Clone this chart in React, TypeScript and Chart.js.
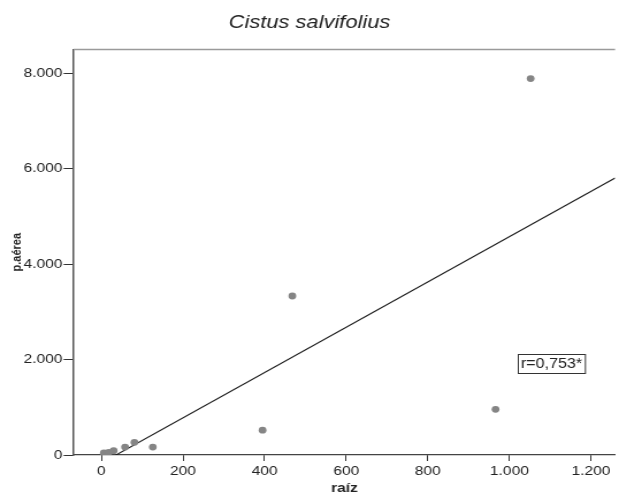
import React, { useEffect, useRef } from "react";
import { Chart, registerables } from "chart.js";

Chart.register(...registerables);

// ---- data ----
const raiz = [6, 18, 30, 58, 81, 126, 395, 468, 966, 1052];
const pAerea = [42, 56, 90, 167, 265, 167, 521, 3333, 958, 7890];

const xTickValues = [0, 200, 400, 600, 800, 1000, 1200];
const xTickLabels = ["0", "200", "400", "600", "800", "1.000", "1.200"];
const yTickValues = [0, 2000, 4000, 6000, 8000];
const yTickLabels = ["0", "2.000", "4.000", "6.000", "8.000"];

const xRange = [-68, 1259];
const yRange = [0, 8500];

const titleText = "Cistus salvifolius";
const xTitle = "raíz";
const yTitle = "p.aérea";
const rLabel = "r=0,753*";
const rLabelPos = { x: 1021, y: 2120 };

// least squares fit line
function fit(xs: number[], ys: number[]) {
  const n = xs.length;
  const mx = xs.reduce((a, b) => a + b, 0) / n;
  const my = ys.reduce((a, b) => a + b, 0) / n;
  let sxy = 0;
  let sxx = 0;
  for (let i = 0; i < n; i++) {
    sxy += (xs[i] - mx) * (ys[i] - my);
    sxx += (xs[i] - mx) * (xs[i] - mx);
  }
  const b = sxy / sxx;
  return { a: my - b * mx, b };
}

const FONT = "'Liberation Sans', Arial, sans-serif";
const STRETCH = 1.15;
const W = 619;
const H = 496;

export default function App() {
  const ref = useRef<HTMLCanvasElement | null>(null);

  useEffect(() => {
    if (!ref.current) return;
    const { a, b } = fit(raiz, pAerea);
    const points = raiz.map((x, i) => ({ x, y: pAerea[i] }));
    const lineData = [
      { x: xRange[0], y: a + b * xRange[0] },
      { x: xRange[1], y: a + b * xRange[1] },
    ];

    const framePlugin = {
      id: "frame",
      afterDraw(chart: any) {
        const { ctx, chartArea, scales } = chart;
        ctx.save();
        ctx.strokeStyle = "#9a9a9a";
        ctx.lineWidth = 1.5;
        ctx.beginPath();
        ctx.moveTo(chartArea.left, chartArea.top);
        ctx.lineTo(chartArea.right, chartArea.top);
        ctx.stroke();

        // r label box
        const px = scales.x.getPixelForValue(rLabelPos.x);
        const py = scales.y.getPixelForValue(rLabelPos.y);
        ctx.font = `14px ${FONT}`;
        const tw = ctx.measureText(rLabel).width;
        const bw = tw + 5;
        const bh = 19;
        ctx.fillStyle = "#ffffff";
        ctx.fillRect(px, py, bw, bh);
        ctx.strokeStyle = "#333333";
        ctx.lineWidth = 1;
        ctx.strokeRect(Math.round(px) + 0.5, Math.round(py) + 0.5, bw, bh);
        ctx.fillStyle = "#222222";
        ctx.textBaseline = "middle";
        ctx.textAlign = "left";
        ctx.fillText(rLabel, px + 2.5, py + bh / 2 + 0.5);
        ctx.restore();
      },
    };

    const chart = new Chart(ref.current, {
      type: "scatter",
      data: {
        datasets: [
          {
            data: points,
            backgroundColor: "#858585",
            borderWidth: 0,
            pointRadius: 3.4,
            pointHoverRadius: 3.4,
          },
          {
            data: lineData,
            showLine: true,
            borderColor: "#1a1a1a",
            borderWidth: 1.1,
            pointRadius: 0,
            pointHoverRadius: 0,
          } as any,
        ],
      },
      options: {
        animation: false,
        responsive: false,
        devicePixelRatio: 1,
        layout: { padding: 0 },
        events: [],
        plugins: {
          legend: { display: false },
          tooltip: { enabled: false },
          title: {
            display: true,
            text: titleText,
            color: "#222222",
            font: { family: FONT, size: 19, style: "italic", weight: "normal" },
            padding: { top: 11, bottom: 15.7 },
          },
        },
        scales: {
          x: {
            type: "linear",
            min: xRange[0],
            max: xRange[1],
            afterBuildTicks: (s: any) => {
              s.ticks = xTickValues.map((v) => ({ value: v }));
            },
            afterFit: (s: any) => {
              s.height = 41;
            },
            ticks: {
              color: "#222222",
              font: { family: FONT, size: 13.5 },
              padding: 2,
              maxRotation: 0,
              autoSkip: false,
              callback: (v: any) => xTickLabels[xTickValues.indexOf(Number(v))] ?? "",
            },
            grid: {
              drawOnChartArea: false,
              drawTicks: true,
              tickLength: 6,
              tickColor: "#333333",
              tickWidth: 1,
            },
            border: { display: true, color: "#444444", width: 1.2 },
            title: {
              display: true,
              text: xTitle,
              color: "#222222",
              font: { family: FONT, size: 13.5, weight: "bold" },
              padding: { top: 0, bottom: 0 },
            },
          },
          y: {
            type: "linear",
            min: yRange[0],
            max: yRange[1],
            afterBuildTicks: (s: any) => {
              s.ticks = yTickValues.map((v) => ({ value: v }));
            },
            afterFit: (s: any) => {
              s.width = 64;
            },
            ticks: {
              color: "#222222",
              font: { family: FONT, size: 13.5 },
              padding: 1,
              autoSkip: false,
              callback: (v: any) => yTickLabels[yTickValues.indexOf(Number(v))] ?? "",
            },
            grid: {
              drawOnChartArea: false,
              drawTicks: true,
              tickLength: 8.7,
              tickColor: "#333333",
              tickWidth: 1,
            },
            border: { display: true, color: "#555555", width: 1.5 },
            title: {
              display: true,
              text: yTitle,
              color: "#222222",
              font: { family: FONT, size: 11, weight: "bold" },
              padding: { top: 8, bottom: 0 },
            },
          },
        },
      },
      plugins: [framePlugin],
    });
    return () => chart.destroy();
  }, []);

  return (
    <div style={{ position: "fixed", left: 0, top: 0, width: W, height: H, background: "#fff" }}>
      <canvas
        ref={ref}
        width={Math.round(W / STRETCH)}
        height={H}
        style={{ width: `${W}px`, height: `${H}px`, display: "block" }}
      />
    </div>
  );
}
